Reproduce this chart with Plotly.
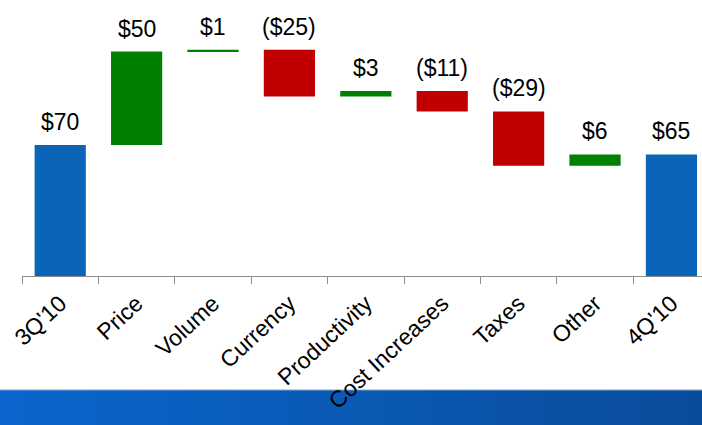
import plotly.graph_objects as go

categories = ["3Q'10", "Price", "Volume", "Currency", "Productivity",
              "Cost Increases", "Taxes", "Other", "4Q'10"]
values = [70, 50, 1, -25, 3, -11, -29, 6, 65]
measures = ["absolute", "relative", "relative", "relative", "relative",
            "relative", "relative", "relative", "total"]
labels = ["$70", "$50", "$1", "($25)", "$3", "($11)", "($29)", "$6", "$65"]

BLUE = "#0A64B8"
GREEN = "#008000"
RED = "#C00000"

fig = go.Figure()
fig.add_trace(go.Waterfall(
    x=categories, y=values, measure=measures,
    width=0.67,
    increasing=dict(marker=dict(color=GREEN)),
    decreasing=dict(marker=dict(color=RED)),
    totals=dict(marker=dict(color=BLUE)),
    connector=dict(visible=False),
    textinfo="none",
    hoverinfo="skip",
))

# labels above the top of each bar
running = 0
for cat, m, v, lab in zip(categories, measures, values, labels):
    if m == "absolute":
        start, end = 0, v
        running = v
    elif m == "total":
        start, end = 0, running
    else:
        start, end = running, running + v
        running = end
    fig.add_annotation(x=cat, y=max(start, end), text=lab, showarrow=False,
                       yanchor="bottom", yshift=8,
                       font=dict(family="Liberation Sans", size=23, color="black"))

# bottom gradient band
n = 30
c0 = (0x0A, 0x66, 0xCC)
c1 = (0x0A, 0x4C, 0x9C)
x_start, x_end = -22 / 680, 1.01
for i in range(n):
    t = i / (n - 1)
    col = "rgb(%d,%d,%d)" % tuple(round(a + (b - a) * t) for a, b in zip(c0, c1))
    fig.add_shape(type="rect", xref="paper", yref="paper", layer="below",
                  x0=x_start + (x_end - x_start) * i / n,
                  x1=x_start + (x_end - x_start) * (i + 1) / n + 0.002,
                  y0=-0.56, y1=-0.413, fillcolor=col, line=dict(width=0))
fig.add_shape(type="line", xref="paper", yref="paper", layer="below",
              x0=x_start, x1=x_end, y0=-0.413, y1=-0.413,
              line=dict(color="#7FA8D8", width=1))

fig.update_layout(
    width=702, height=425,
    margin=dict(l=22, r=0, t=0, b=149),
    paper_bgcolor="white", plot_bgcolor="white",
    showlegend=False,
    xaxis=dict(
        type="category", range=[-0.5, 8.4],
        showline=True, linecolor="#8C8C8C", linewidth=1,
        ticks="outside", ticklen=7, tickcolor="#8C8C8C", tickson="boundaries",
        tickangle=-43, showgrid=False, ticklabelstandoff=4,
        tickfont=dict(family="Liberation Sans", size=23, color="black"),
    ),
    yaxis=dict(range=[0, 147.6], visible=False, showgrid=False, zeroline=False),
)

fig.write_html("out.html")
